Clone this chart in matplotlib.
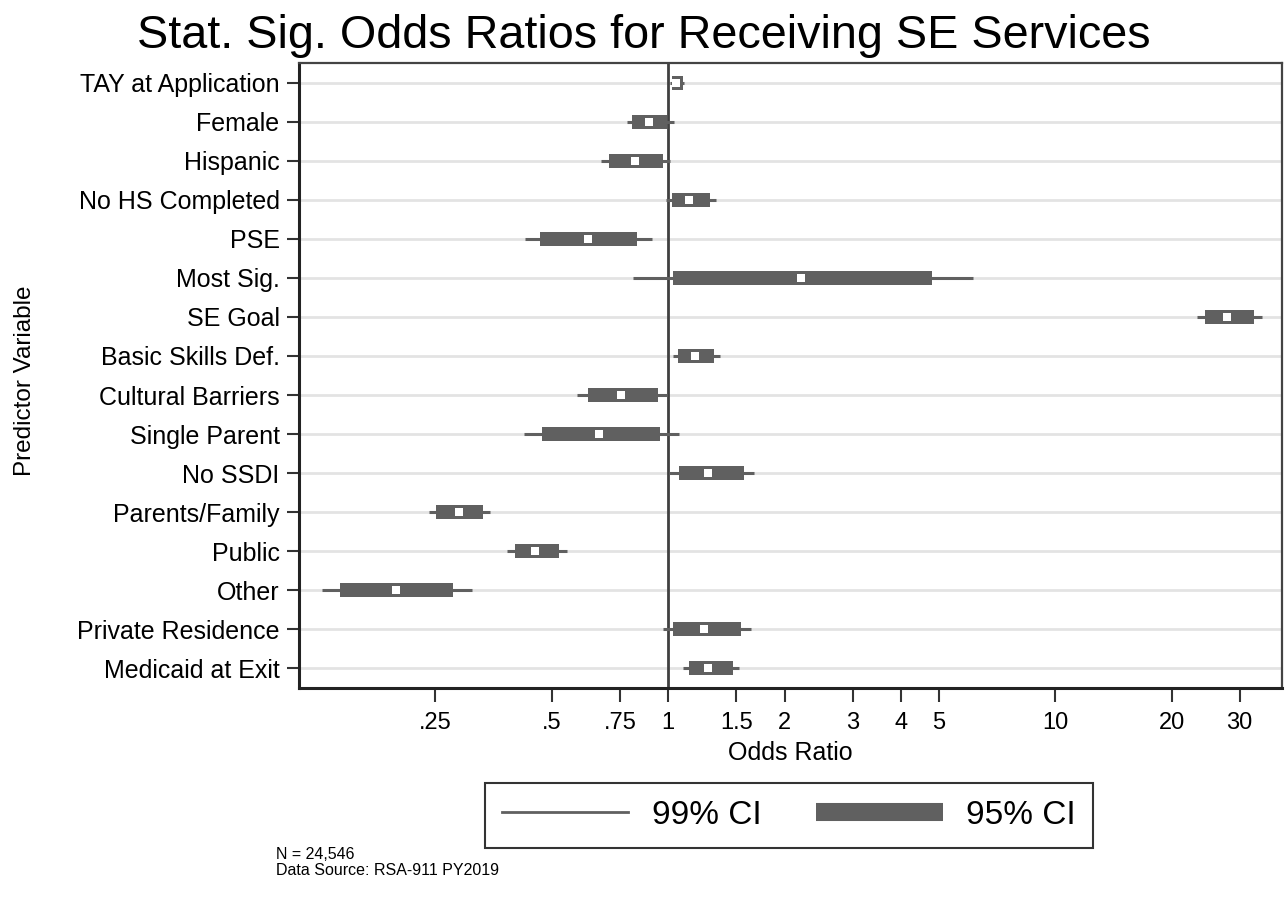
import numpy as np
import matplotlib
matplotlib.use("Agg")
import matplotlib.pyplot as plt
from matplotlib.lines import Line2D

# Predictors, top to bottom
predictors = [
    "TAY at Application", "Female", "Hispanic", "No HS Completed", "PSE",
    "Most Sig.", "SE Goal", "Basic Skills Def.", "Cultural Barriers",
    "Single Parent", "No SSDI", "Parents/Family", "Public", "Other",
    "Private Residence", "Medicaid at Exit",
]
odds_ratio = [1.05, 0.89, 0.82, 1.13, 0.62, 2.20, 27.8, 1.17, 0.755,
              0.664, 1.27, 0.287, 0.452, 0.198, 1.24, 1.27]
ci95_lo = [1.02, 0.807, 0.704, 1.024, 0.466, 1.03, 24.4, 1.057, 0.620,
           0.472, 1.066, 0.251, 0.401, 0.142, 1.028, 1.133]
ci95_hi = [1.09, 0.99, 0.967, 1.279, 0.828, 4.81, 32.7, 1.315, 0.942,
           0.953, 1.569, 0.331, 0.523, 0.278, 1.541, 1.469]
ci99_lo = [1.01, 0.782, 0.670, 0.988, 0.426, 0.809, 23.3, 1.026, 0.581,
           0.424, 1.006, 0.240, 0.384, 0.127, 0.967, 1.089]
ci99_hi = [1.10, 1.032, 1.012, 1.328, 0.908, 6.14, 34.2, 1.357, 0.992,
           1.063, 1.668, 0.346, 0.546, 0.310, 1.641, 1.528]

xticks = [0.25, 0.5, 0.75, 1, 1.5, 2, 3, 4, 5, 10, 20, 30]
xtick_labels = [".25", ".5", ".75", "1", "1.5", "2", "3", "4", "5", "10", "20", "30"]

plt.rcParams["font.family"] = ["Liberation Sans", "DejaVu Sans"]
bar_color = "#606060"

fig = plt.figure(figsize=(12.87, 9.06), dpi=100)
ax = fig.add_axes([0.2323, 0.2406, 0.7638, 0.6899])

y = np.arange(len(predictors))

for yi in y:
    ax.axhline(yi, color="#e3e3e3", lw=2, zorder=0)
ax.axvline(1, color="#404040", lw=2, zorder=1)

# 99% whiskers, 95% bars, point estimates
ax.hlines(y, ci99_lo, ci99_hi, color=bar_color, lw=2.2, zorder=2)
lo = np.array(ci95_lo)
hi = np.array(ci95_hi)
ax.barh(y, hi - lo, left=lo, height=0.36, color=bar_color, zorder=3)
ax.plot(odds_ratio, y, "s", color="white", markersize=5.5, mew=0, zorder=4)

ax.set_xscale("log")
ax.set_xlim(0.111, 38.6)
ax.set_ylim(len(predictors) - 0.49, -0.51)
ax.set_xticks(xticks)
ax.set_xticklabels(xtick_labels, fontsize=17)
ax.minorticks_off()
ax.set_yticks(y)
ax.set_yticklabels(predictors, fontsize=18)
ax.tick_params(axis="x", length=10, width=1.5, pad=7, color="#333333")
ax.tick_params(axis="y", length=9, width=1.5, pad=5, color="#333333")

for side in ["left", "bottom"]:
    ax.spines[side].set_linewidth(2.2)
    ax.spines[side].set_color("#222222")
for side in ["top", "right"]:
    ax.spines[side].set_linewidth(1.6)
    ax.spines[side].set_color("#444444")

ax.set_xlabel("Odds Ratio", fontsize=18, labelpad=5)
fig.text(0.0194, 0.58, "Predictor Variable", rotation=90, fontsize=17.5,
         ha="center", va="center")

fig.suptitle("Stat. Sig. Odds Ratios for Receiving SE Services",
             x=0.5, y=0.985, va="top", fontsize=33.7)

handles = [
    Line2D([], [], color=bar_color, lw=2),
    Line2D([], [], color=bar_color, lw=13, solid_capstyle="butt"),
]
leg = fig.legend(handles, ["99% CI", "95% CI"], loc="center",
                 bbox_to_anchor=(0.613, 0.0998), ncol=2, frameon=True,
                 fancybox=False, handlelength=3.8, columnspacing=1.65,
                 prop={"size": 24}, borderpad=0.5, handletextpad=0.7)
leg.get_frame().set_edgecolor("black")
leg.get_frame().set_linewidth(1.5)

fig.text(0.2145, 0.065, "N = 24,546\nData Source: RSA-911 PY2019",
         fontsize=11.5, va="top", linespacing=1.1)

fig.savefig("out.png", dpi=100)
